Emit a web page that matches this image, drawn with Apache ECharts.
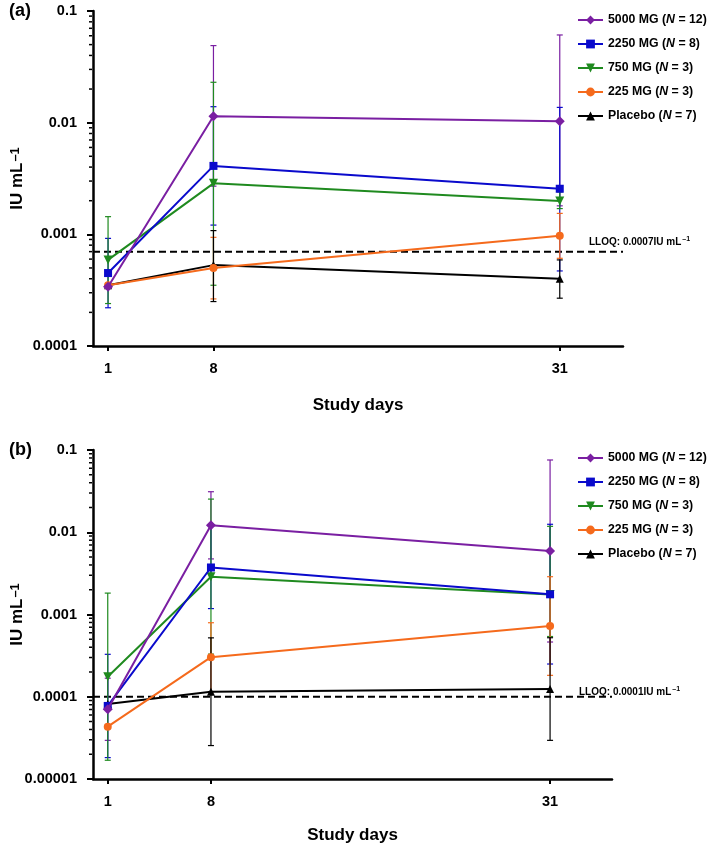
<!DOCTYPE html>
<html>
<head>
<meta charset="utf-8">
<script src="https://cdn.jsdelivr.net/npm/echarts@6.0.0/dist/echarts.min.js"></script>
<style>body{margin:0;background:#fff}</style>
</head>
<body>
<div id="main" style="width:709px;height:846px"></div>
<script>
var days = [1, 8, 31];
var groups = ['5000 MG', '2250 MG', '750 MG', '225 MG', 'Placebo'];
var groupN = [12, 8, 3, 3, 7];
var colors = ['#7a1fa2', '#0a0acc', '#1f8a1f', '#f56a1c', '#000000'];
var symbols = ['diamond', 'rect', 'triangle', 'circle', 'triangle'];
var rotates = [0, 0, 180, 0, 0];
var sizes = [10, 8, 9, 8, 8];

// panel (a) - geometric means and error bar ends
var aMean5000 = [0.00034, 0.0114, 0.0103];
var aHi5000 = [null, 0.049, 0.061];
var aLo5000 = [null, 0.0027, 0.0018];
var aMean2250 = [0.00045, 0.0041, 0.00256];
var aHi2250 = [0.00092, 0.0139, 0.0137];
var aLo2250 = [0.00022, 0.00121, 0.00047];
var aMean750 = [0.00059, 0.00286, 0.00199];
var aHi750 = [0.00144, 0.023, 0.0024];
var aLo750 = [0.00024, 0.00035, 0.0017];
var aMean225 = [0.00035, 0.0005, 0.00097];
var aHi225 = [null, 0.00094, 0.00154];
var aLo225 = [null, 0.000264, 0.00061];
var aMeanPbo = [0.00035, 0.00053, 0.0004];
var aHiPbo = [null, 0.00108, 0.00059];
var aLoPbo = [null, 0.00025, 0.000268];
var aLloq = 0.0007;

// panel (b)
var bMean5000 = [0.0000703, 0.01215, 0.00592];
var bHi5000 = [0.000168, 0.0311, 0.0756];
var bLo5000 = [0.0000295, 0.00474, 0.000463];
var bMean2250 = [0.0000773, 0.00373, 0.00176];
var bHi2250 = [0.000328, 0.0118, 0.0125];
var bLo2250 = [0.0000182, 0.00118, 0.00025];
var bMean750 = [0.000175, 0.00288, 0.00175];
var bHi750 = [0.00182, 0.0253, 0.0118];
var bLo750 = [0.0000169, 0.00033, 0.00054];
var bMean225 = [0.0000433, 0.000303, 0.000724];
var bHi225 = [null, 0.000794, 0.00288];
var bLo225 = [null, 0.000115, 0.000182];
var bMeanPbo = [0.0000817, 0.000115, 0.000124];
var bHiPbo = [null, 0.00052, 0.000522];
var bLoPbo = [null, 0.0000255, 0.0000295];
var bLloq = 0.0001;

var aYTicks = [0.0001, 0.1];
var bYTicks = [0.00001, 0.1];

var panels = [
    {means: [aMean5000, aMean2250, aMean750, aMean225, aMeanPbo],
     his: [aHi5000, aHi2250, aHi750, aHi225, aHiPbo],
     los: [aLo5000, aLo2250, aLo750, aLo225, aLoPbo],
     lloq: aLloq, range: aYTicks},
    {means: [bMean5000, bMean2250, bMean750, bMean225, bMeanPbo],
     his: [bHi5000, bHi2250, bHi750, bHi225, bHiPbo],
     los: [bLo5000, bLo2250, bLo750, bLo225, bLoPbo],
     lloq: bLloq, range: bYTicks}
];

var font = 'Liberation Sans, Arial, sans-serif';
var xMax = 35.2;

function minorValues(lo, hi) {
    var out = [];
    for (var d = lo; d < hi * 0.999; d *= 10) {
        for (var k = 2; k <= 9; k++) out.push([0, +(d * k).toPrecision(3)]);
    }
    return out;
}

function renderMinor(params, api) {
    var p = api.coord([api.value(0), api.value(1)]);
    return {type: 'line', shape: {x1: p[0] - 4, y1: p[1], x2: p[0] - 1, y2: p[1]},
            style: {stroke: '#000', lineWidth: 1.5}};
}

function renderBar(params, api) {
    var top = api.coord([api.value(0), api.value(2)]);
    var bot = api.coord([api.value(0), api.value(1)]);
    var x = top[0], c = 3;
    var st = {stroke: api.visual('color'), lineWidth: 1.2};
    return {type: 'group', children: [
        {type: 'line', shape: {x1: x, y1: top[1], x2: x, y2: bot[1]}, style: st},
        {type: 'line', shape: {x1: x - c, y1: top[1], x2: x + c, y2: top[1]}, style: st},
        {type: 'line', shape: {x1: x - c, y1: bot[1], x2: x + c, y2: bot[1]}, style: st}
    ]};
}

var series = [];
panels.forEach(function (p, pi) {
    series.push({
        type: 'custom', name: 'minor' + pi, xAxisIndex: pi, yAxisIndex: pi,
        renderItem: renderMinor, data: minorValues(p.range[0], p.range[1]),
        encode: {x: 0, y: 1}, silent: true, clip: false, z: 5
    });
    // LLOQ dashed reference line across the whole axis
    series.push({
        type: 'line', name: 'LLOQ' + pi, xAxisIndex: pi, yAxisIndex: pi,
        data: [[0, p.lloq], [xMax, p.lloq]], symbol: 'none', silent: true,
        lineStyle: {color: '#000', type: [7, 4], width: 2}, z: 1
    });
    groups.forEach(function (g, i) {
        var bars = [];
        days.forEach(function (d, j) {
            if (p.los[i][j] != null) bars.push([d, p.los[i][j], p.his[i][j]]);
        });
        series.push({
            type: 'custom', name: 'err' + pi + '_' + i, xAxisIndex: pi, yAxisIndex: pi,
            renderItem: renderBar, data: bars, encode: {x: 0, y: [1, 2]},
            itemStyle: {color: colors[i]}, silent: true, z: 2
        });
    });
    groups.forEach(function (g, i) {
        series.push({
            type: 'line', name: g, xAxisIndex: pi, yAxisIndex: pi,
            data: days.map(function (d, j) { return [d, p.means[i][j]]; }),
            symbol: symbols[i], symbolSize: sizes[i], symbolRotate: rotates[i],
            showAllSymbol: true,
            lineStyle: {color: colors[i], width: 2},
            itemStyle: {color: colors[i]},
            z: 3 + (groups.length - i) * 0.1
        });
    });
});

function xAxis(gi, gap) {
    return {
        gridIndex: gi, type: 'value', min: 0, max: xMax,
        axisLine: {lineStyle: {color: '#000', width: 2.5}},
        axisTick: {customValues: days, length: 5, lineStyle: {color: '#000', width: 2}},
        axisLabel: {customValues: days, color: '#000', fontSize: 14.5, fontWeight: 'bold',
                    fontFamily: font, margin: 15},
        splitLine: {show: false},
        name: 'Study days', nameLocation: 'middle', nameGap: gap, nameMoveOverlap: false,
        nameTextStyle: {color: '#000', fontSize: 17, fontWeight: 'bold', fontFamily: font}
    };
}

function yAxis(gi, range) {
    return {
        gridIndex: gi, type: 'log', logBase: 10, min: range[0], max: range[1],
        axisLine: {show: true, lineStyle: {color: '#000', width: 2.5}},
        axisTick: {show: true, length: 6, lineStyle: {color: '#000', width: 2}},
        axisLabel: {color: '#000', fontSize: 14.5, fontWeight: 'bold', fontFamily: font, margin: 16,
                    formatter: function (v) { return String(+v.toPrecision(2)); }},
        splitLine: {show: false},
        name: 'IU mL{s|–1}', nameLocation: 'middle', nameGap: 67, nameRotate: 90,
        nameMoveOverlap: false,
        nameTextStyle: {color: '#000', fontSize: 17, fontWeight: 'bold', fontFamily: font,
                        rich: {s: {fontSize: 13, fontWeight: 'bold', fontFamily: font,
                                   verticalAlign: 'top', padding: [0, 0, 4, 1]}}}
    };
}

function legend(top) {
    return {
        data: groups, orient: 'vertical', left: 572, top: top,
        itemWidth: 25, itemHeight: 11, itemGap: 10,
        textStyle: {color: '#000', fontSize: 12.3, fontWeight: 'bold', fontFamily: font,
                    lineHeight: 14,
                    rich: {i: {fontStyle: 'italic', fontWeight: 'bold', fontSize: 12.3,
                               fontFamily: font}}},
        formatter: function (name) {
            var n = groupN[groups.indexOf(name)];
            return name + ' ({i|N} = ' + n + ')';
        },
        selectedMode: false
    };
}

var lloqText = {fontSize: 10, fontWeight: 'bold', color: '#000', fontFamily: font,
                rich: {s: {fontSize: 7, fontWeight: 'bold', verticalAlign: 'top',
                           padding: [0, 0, 5, 1], fontFamily: font}}};
var panelText = {fontSize: 18, fontWeight: 'bold', color: '#000', fontFamily: font};

var option = {
    animation: false,
    backgroundColor: '#fff',
    title: [
        {text: '(a)', left: 9, top: 2, padding: 0, textStyle: panelText},
        {text: '(b)', left: 9, top: 441, padding: 0, textStyle: panelText},
        {text: 'LLOQ: 0.0007IU mL{s|–1}', left: 589, top: 236, padding: 0, textStyle: lloqText},
        {text: 'LLOQ: 0.0001IU mL{s|–1}', left: 579, top: 686, padding: 0, textStyle: lloqText}
    ],
    legend: [legend(8), legend(446)],
    grid: [
        {left: 93, top: 11, width: 530, height: 335, outerBoundsMode: 'none', containLabel: false},
        {left: 93, top: 450, width: 519, height: 329, outerBoundsMode: 'none', containLabel: false}
    ],
    xAxis: [xAxis(0, 51), xAxis(1, 48)],
    yAxis: [yAxis(0, aYTicks), yAxis(1, bYTicks)],
    series: series
};

var myChart = echarts.init(document.getElementById('main'));
myChart.setOption(option);
</script>
</body>
</html>
